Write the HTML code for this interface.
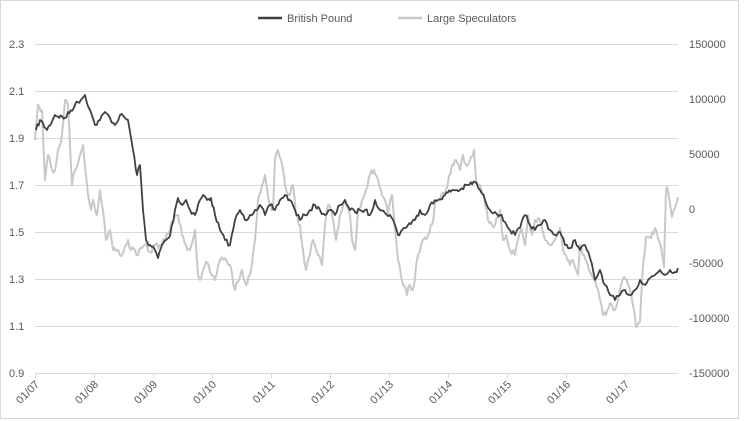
<!DOCTYPE html>
<html><head><meta charset="utf-8"><style>
body{margin:0;background:#fff;}
svg{display:block;font-family:"Liberation Sans",sans-serif;}
</style></head><body>
<svg width="754" height="421" viewBox="0 0 754 421">
<rect x="0.5" y="0.5" width="738" height="418" fill="#fff" stroke="#d9d9d9"/>
<g stroke="#d9d9d9" stroke-width="1">
<line x1="35" y1="44.5" x2="678" y2="44.5"/><line x1="35" y1="91.5" x2="678" y2="91.5"/>
<line x1="35" y1="138.5" x2="678" y2="138.5"/><line x1="35" y1="185.5" x2="678" y2="185.5"/>
<line x1="35" y1="232.5" x2="678" y2="232.5"/><line x1="35" y1="279.5" x2="678" y2="279.5"/>
<line x1="35" y1="326.5" x2="678" y2="326.5"/><line x1="35" y1="373.5" x2="678" y2="373.5"/>
<line x1="35.5" y1="373" x2="35.5" y2="378"/><line x1="94.5" y1="373" x2="94.5" y2="378"/>
<line x1="153.5" y1="373" x2="153.5" y2="378"/><line x1="212.5" y1="373" x2="212.5" y2="378"/>
<line x1="271.5" y1="373" x2="271.5" y2="378"/><line x1="330.5" y1="373" x2="330.5" y2="378"/>
<line x1="389.5" y1="373" x2="389.5" y2="378"/><line x1="448.5" y1="373" x2="448.5" y2="378"/>
<line x1="507.5" y1="373" x2="507.5" y2="378"/><line x1="566.5" y1="373" x2="566.5" y2="378"/>
<line x1="625.5" y1="373" x2="625.5" y2="378"/>
</g>
<g font-size="11" fill="#595959">
<text x="9" y="48">2.3</text><text x="9" y="95">2.1</text><text x="9" y="142">1.9</text>
<text x="9" y="189">1.7</text><text x="9" y="236">1.5</text><text x="9" y="283">1.3</text>
<text x="9" y="330">1.1</text><text x="9" y="377">0.9</text>
<text x="689" y="48">150000</text><text x="689" y="103">100000</text><text x="689" y="158">50000</text>
<text x="689" y="213">0</text><text x="689" y="267">-50000</text><text x="689" y="322">-100000</text>
<text x="689" y="377">-150000</text>
</g>
<g font-size="11" fill="#595959" text-anchor="end">
<text transform="translate(40,385) rotate(-45)">01/07</text>
<text transform="translate(99,385) rotate(-45)">01/08</text>
<text transform="translate(158,385) rotate(-45)">01/09</text>
<text transform="translate(217,385) rotate(-45)">01/10</text>
<text transform="translate(276,385) rotate(-45)">01/11</text>
<text transform="translate(335,385) rotate(-45)">01/12</text>
<text transform="translate(394,385) rotate(-45)">01/13</text>
<text transform="translate(453,385) rotate(-45)">01/14</text>
<text transform="translate(512,385) rotate(-45)">01/15</text>
<text transform="translate(571,385) rotate(-45)">01/16</text>
<text transform="translate(630,385) rotate(-45)">01/17</text>
</g>
<polyline id="spec" fill="none" stroke="#c8c8c8" stroke-width="2" stroke-linejoin="round" points="35,140 38,105 42,110 45,180 48,155 52,170 55,170 58,150 62,135 65,100 68,105 72,185 75,170 80,155 83,145 86,175 88,195 91,210 93,200 97,215 100,190 103,210 106,240 110,230 113,250 117,250 120,255 124,250 128,240 131,250 135,250 138,255 142,248 145,245 150,252 155,245 160,245 165,240 170,230 175,215 178,215 182,235 186,245 190,250 195,230 198,275 200,280 203,270 206,262 210,272 215,280 220,260 225,258 230,265 235,290 238,282 242,270 246,285 250,275 255,240 258,200 262,185 265,175 270,205 273,210 275,160 278,150 281,160 285,185 290,195 293,185 296,215 300,225 303,250 306,270 310,255 313,240 318,255 322,265 325,225 328,205 332,215 336,240 340,215 345,200 350,215 352,240 355,250 358,210 362,200 366,190 370,175 374,170 378,180 382,195 385,200 388,215 392,195 395,230 398,260 403,285 407,295 410,285 413,290 418,255 423,240 428,235 432,225 436,200 440,200 446,190 452,165 456,160 460,170 463,155 466,165 470,160 474,150 476,180 480,185 484,195 488,220 492,225 495,225 500,210 503,240 506,235 510,250 515,255 518,240 522,230 525,245 528,215 532,235 535,220 540,220 545,240 550,245 555,240 560,228 563,250 566,255 570,265 573,260 576,270 578,275 580,245 584,255 590,272 595,280 600,300 603,315 606,315 610,303 612,305 615,310 618,300 621,285 624,277 628,285 631,295 633,305 636,327 640,322 642,280 646,237 651,238 655,228 658,238 662,253 664,267 666,190 667,187 672,217 675,208 678,197"/>
<polyline id="gbp" fill="none" stroke="#404040" stroke-width="1.8" stroke-linejoin="round" points="36,130 40,120 47,130 55,115 65,118 75,105 85,95 90,110 95,125 100,120 105,112 110,118 115,125 120,115 125,118 128,120 133,150 137,175 140,165 143,210 146,240 150,245 155,250 158,258 162,245 166,240 170,236 175,210 178,198 182,205 186,200 190,210 195,215 200,200 203,195 207,200 211,198 215,215 220,230 225,240 230,245 235,220 240,210 245,220 250,215 255,210 260,205 265,215 270,205 275,210 280,200 285,195 290,200 295,210 300,220 305,215 310,210 315,205 320,210 325,215 330,210 335,215 340,205 345,200 350,210 355,212 360,210 365,210 370,215 375,200 380,210 385,213 390,215 395,225 398,235 402,230 408,225 415,220 420,210 425,215 430,205 438,200 445,195 452,190 460,190 468,185 475,182 480,190 485,200 490,210 495,212 500,215 505,222 510,230 515,235 520,228 525,215 530,225 535,230 540,225 545,220 550,230 555,235 560,232 565,245 570,248 575,240 580,250 585,245 590,258 595,280 600,270 605,285 610,295 615,300 620,295 625,290 630,295 635,290 640,280 645,285 650,278 655,275 660,270 665,275 670,270 675,272 678,268"/>
<line x1="258" y1="18" x2="282" y2="18" stroke="#404040" stroke-width="2.5"/>
<text x="287" y="22" font-size="11" fill="#595959">British Pound</text>
<line x1="398" y1="18" x2="422" y2="18" stroke="#c8c8c8" stroke-width="2.5"/>
<text x="427" y="22" font-size="11" fill="#595959">Large Speculators</text>
</svg>
<script>
(function(){
var seed=7;function r(){seed=(seed*16807)%2147483647;return seed/2147483647-0.5;}
function rough(id,amp){
var el=document.getElementById(id);
var pts=el.getAttribute('points').trim().split(/\s+/).map(function(p){return p.split(',').map(Number);});
var out=[];
for(var i=0;i<pts.length-1;i++){
var a=pts[i],b=pts[i+1],n=Math.max(1,Math.round((b[0]-a[0])/1.5));
for(var k=0;k<n;k++){var t=k/n;var x=a[0]+(b[0]-a[0])*t,y=a[1]+(b[1]-a[1])*t;
out.push(x.toFixed(1)+','+(y+(k?r()*amp:0)).toFixed(1));}
}
out.push(pts[pts.length-1].join(','));
el.setAttribute('points',out.join(' '));
}
rough('gbp',5);rough('spec',7);
})();
</script>
</body></html>
